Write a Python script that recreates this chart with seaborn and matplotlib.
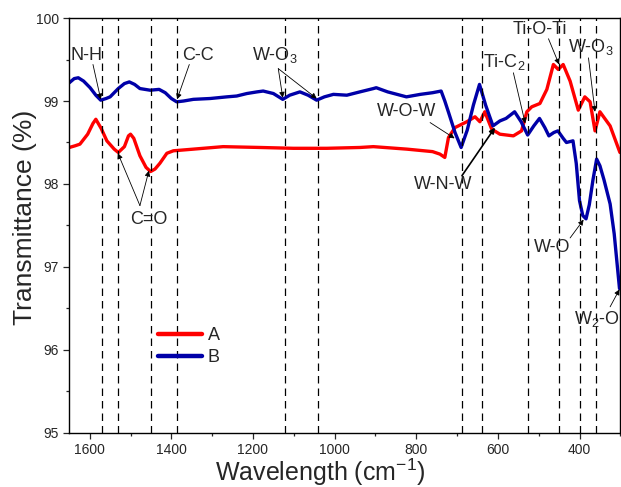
import numpy as np
import pandas as pd
import seaborn as sns
import matplotlib.pyplot as plt
from matplotlib.ticker import MultipleLocator

# spectrum A (red)
wave_a = [1650, 1636, 1624, 1605, 1592, 1585, 1572, 1558, 1540, 1530, 1515, 1505, 1500, 1492,
          1477, 1462, 1451, 1440, 1428, 1411, 1395, 1346, 1273, 1183, 1101, 1019, 938, 905,
          823, 760, 742, 730, 721, 705, 676, 656, 644, 632, 615, 595, 562, 542, 529, 517,
          497, 480, 464, 452, 440, 423, 403, 387, 374, 362, 350, 325, 301]
trans_a = [98.44, 98.46, 98.48, 98.60, 98.73, 98.78, 98.67, 98.52, 98.42, 98.38, 98.45, 98.58, 98.60, 98.55,
           98.34, 98.20, 98.15, 98.18, 98.25, 98.37, 98.40, 98.42, 98.45, 98.44, 98.43, 98.43, 98.44, 98.45,
           98.42, 98.39, 98.36, 98.32, 98.56, 98.68, 98.75, 98.81, 98.75, 98.87, 98.66, 98.60, 98.58, 98.64, 98.87, 98.93,
           98.97, 99.14, 99.44, 99.38, 99.44, 99.24, 98.89, 99.05, 98.99, 98.64, 98.87, 98.70, 98.38]

# spectrum B (blue)
wave_b = [1650, 1638, 1628, 1615, 1599, 1585, 1573, 1560, 1550, 1530, 1515, 1503, 1490, 1477,
          1452, 1430, 1415, 1400, 1387, 1370, 1346, 1305, 1264, 1240, 1215, 1190, 1175, 1150,
          1127, 1110, 1085, 1065, 1044, 1025, 1003, 970, 938, 905, 898, 870, 824, 790, 760,
          739, 730, 720, 705, 690, 675, 660, 645, 630, 612, 595, 580, 559, 543, 527, 512,
          498, 485, 475, 463, 453, 440, 432, 416, 408, 400, 392, 384, 376, 367, 358, 350,
          340, 325, 315, 302]
trans_b = [99.22, 99.27, 99.28, 99.24, 99.16, 99.07, 99.01, 99.03, 99.05, 99.15, 99.21, 99.23, 99.20, 99.15,
           99.13, 99.14, 99.10, 99.03, 98.99, 99.00, 99.02, 99.03, 99.05, 99.06, 99.09, 99.11, 99.12, 99.09,
           99.02, 99.07, 99.11, 99.07, 99.01, 99.05, 99.08, 99.07, 99.11, 99.15, 99.16, 99.11, 99.05, 99.08, 99.10,
           99.12, 99.00, 98.85, 98.62, 98.44, 98.65, 98.95, 99.20, 98.95, 98.70, 98.76, 98.79, 98.87, 98.75, 98.59, 98.70,
           98.79, 98.68, 98.58, 98.62, 98.64, 98.55, 98.50, 98.52, 98.25, 97.80, 97.62, 97.58, 97.75, 98.05, 98.30, 98.22,
           98.05, 97.76, 97.40, 96.74]

# band positions (dashed lines)
bands = [1570, 1530, 1450, 1385, 1122, 1040, 688, 640, 525, 450, 398, 360]

df = pd.concat([
    pd.DataFrame({'wave': wave_a, 'T': trans_a, 'sample': 'A'}),
    pd.DataFrame({'wave': wave_b, 'T': trans_b, 'sample': 'B'}),
])

sns.set_style('ticks')
plt.rcParams['font.family'] = ['Liberation Sans', 'DejaVu Sans']
plt.rcParams['mathtext.default'] = 'regular'

fig, ax = plt.subplots(figsize=(6.21, 4.87), dpi=100)
fig.subplots_adjust(left=0.1116, right=0.9989, top=0.963, bottom=0.111)

sns.lineplot(data=df, x='wave', y='T', hue='sample', palette={'A': '#ff0000', 'B': '#0000a8'},
             linewidth=2.4, estimator=None, sort=False, ax=ax)

for b in bands:
    ax.axvline(b, color='k', lw=0.9, ls=(0, (6, 4)), zorder=3)

# labels: (text, text position, arrow start, [arrow targets], line width)
notes = [
    ('N-H', (1607, 99.55), (1592, 99.44), [(1573, 99.02)], 0.6),
    ('C-C', (1334, 99.55), (1356, 99.44), [(1386, 99.02)], 0.6),
    ('W-O$_3$', (1146, 99.55), (1138, 99.39), [(1127, 99.04), (1044, 99.03)], 0.6),
    ('C=O', (1454, 97.57), (1477, 97.74), [(1531, 98.37), (1455, 98.16)], 0.6),
    ('W-O-W', (823, 98.87), (766, 98.74), [(706, 98.55)], 0.6),
    ('W-N-W', (734, 97.99), (688, 98.10), [(607, 98.68)], 1.2),
    ('Ti-C$_2$', (585, 99.47), (562, 99.34), [(533, 98.73)], 0.6),
    ('Ti-O-Ti', (497, 99.86), (476, 99.75), [(450, 99.44)], 0.6),
    ('W-O$_3$', (372, 99.65), (378, 99.52), [(362, 98.87)], 0.6),
    ('W-O', (466, 97.23), (423, 97.35), [(390, 97.57)], 0.6),
    ('W$_2$-O', (357, 96.37), (325, 96.52), [(302, 96.73)], 0.6),
]
for text, tpos, start, targets, lw in notes:
    ax.text(tpos[0], tpos[1], text, fontsize=13, ha='center', va='center', zorder=5)
    for tgt in targets:
        ax.annotate('', xy=tgt, xytext=start,
                    arrowprops=dict(arrowstyle='-|>', color='k', lw=lw, mutation_scale=8,
                                    shrinkA=0, shrinkB=0), zorder=5)

ax.set_xlim(1650, 300)
ax.set_ylim(95, 100)
ax.set_xticks([1600, 1400, 1200, 1000, 800, 600, 400])
ax.xaxis.set_minor_locator(MultipleLocator(100))
ax.set_yticks([95, 96, 97, 98, 99, 100])
ax.yaxis.set_minor_locator(MultipleLocator(0.5))
ax.tick_params(which='major', direction='out', length=4, width=0.9, labelsize=10)
ax.tick_params(which='minor', direction='out', length=2.5, width=0.9)
for s in ax.spines.values():
    s.set_visible(True)
    s.set_linewidth(1.0)
    s.set_color('k')

ax.set_xlabel('Wavelength (cm$^{-1}$)', fontsize=18)
ax.set_ylabel('Transmittance (%)', fontsize=19)
ax.xaxis.set_label_coords(0.455, -0.056)
ax.yaxis.set_label_coords(-0.058, 0.52)

leg = ax.legend(loc='center left', bbox_to_anchor=(0.145, 0.208), frameon=False, fontsize=13,
                handlelength=2.4, handletextpad=0.35, labelspacing=0.25, borderpad=0)
for line in leg.get_lines():
    line.set_linewidth(3.2)

fig.savefig('out.png', dpi=100)
